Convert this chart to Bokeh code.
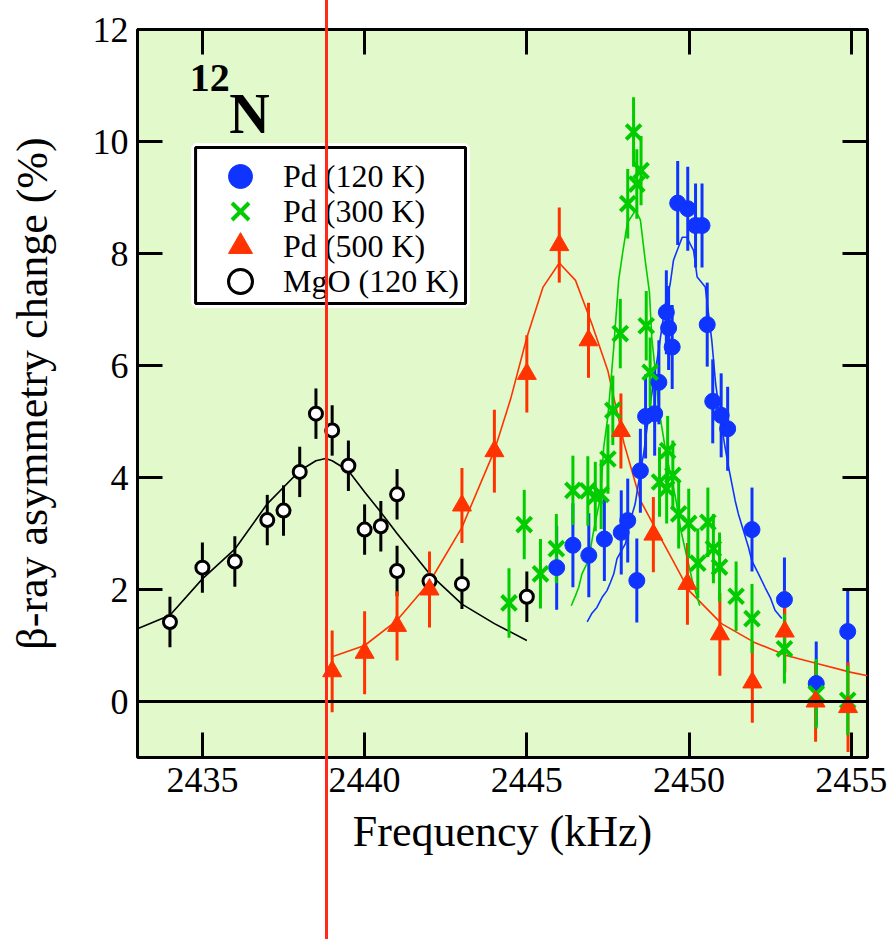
import numpy as np
from bokeh.plotting import figure
from bokeh.models import (ColumnDataSource, Range1d, LinearAxis, FixedTicker, Span, Label,
                          Legend, LegendItem, BoxAnnotation, InlineStyleSheet)
from bokeh.embed import file_html
from bokeh.resources import INLINE

# ---------------- data ----------------
# Pd (120 K) - blue filled circles
pd120_x = [2445.92, 2446.42, 2446.91, 2447.39, 2447.91, 2448.11, 2448.39, 2448.50, 2448.66,
           2448.94, 2449.07, 2449.30, 2449.37, 2449.48, 2449.65, 2449.96, 2450.20, 2450.40,
           2450.56, 2450.73, 2450.99, 2451.19, 2451.94, 2452.94, 2453.92, 2454.89]
pd120_y = [2.39, 2.79, 2.61, 2.90, 3.02, 3.23, 2.16, 4.12, 5.09,
           5.14, 5.70, 6.95, 6.67, 6.33, 8.90, 8.80, 8.50, 8.50,
           6.73, 5.36, 5.11, 4.87, 3.07, 1.82, 0.32, 1.25]
pd120_e = [0.75] * len(pd120_x)

# Pd (300 K) - green crosses
pd300_x = [2444.45, 2444.92, 2445.42, 2445.91, 2446.42, 2446.88, 2447.11, 2447.29, 2447.50,
           2447.65, 2447.88, 2448.11, 2448.29, 2448.39, 2448.52, 2448.68, 2448.80, 2449.09,
           2449.34, 2449.31, 2449.50, 2449.68, 2449.99, 2450.27, 2450.58, 2450.75, 2450.94,
           2451.45, 2451.94, 2452.94, 2453.92, 2454.89]
pd300_y = [1.76, 3.16, 2.28, 2.73, 3.77, 3.76, 3.66, 3.70, 4.33,
           5.20, 6.57, 8.89, 10.17, 9.24, 9.48, 6.71, 5.88, 3.92,
           4.48, 3.80, 4.04, 3.35, 3.18, 2.47, 3.20, 2.73, 2.40,
           1.88, 1.48, 0.94, 0.14, 0.02]
pd300_e = [0.62] * len(pd300_x)

# Pd (500 K) - red triangles
pd500_x = [2439.0, 2440.0, 2441.0, 2442.0, 2443.0, 2444.0, 2445.0, 2446.0, 2446.9,
           2447.9, 2448.9, 2449.95, 2450.95, 2451.95, 2452.95, 2453.9, 2454.9]
pd500_y = [0.54, 0.87, 1.35, 2.00, 3.50, 4.47, 5.85, 8.15, 6.45,
           4.83, 2.98, 2.10, 1.20, 0.34, 1.25, 0.00, -0.10]
pd500_e = [0.73, 0.74, 0.62, 0.68, 0.67, 0.74, 0.69, 0.67, 0.67,
           0.67, 0.67, 0.73, 0.74, 0.72, 0.73, 0.72, 0.80]

# MgO (120 K) - open black circles
mgo_x = [2434.0, 2435.0, 2436.0, 2437.0, 2437.5, 2438.0, 2438.5, 2439.0, 2439.5,
         2440.0, 2440.5, 2441.0, 2441.0, 2442.0, 2443.0, 2445.0]
mgo_y = [1.42, 2.39, 2.50, 3.24, 3.41, 4.10, 5.14, 4.84, 4.21,
         3.07, 3.13, 3.70, 2.33, 2.15, 2.10, 1.87]
mgo_e = [0.45] * len(mgo_x)

# fitted curves
fit_mgo_x = [2433.0, 2434.0, 2435.0, 2436.0, 2437.0, 2438.0, 2438.5, 2438.8, 2439.0, 2439.5,
             2440.0, 2440.5, 2441.0, 2442.0, 2443.0, 2444.0, 2445.0]
fit_mgo_y = [1.30, 1.54, 2.19, 2.72, 3.53, 4.12, 4.30, 4.34, 4.30, 4.12,
             3.74, 3.38, 3.00, 2.28, 1.74, 1.39, 1.09]

fit_500_x = [2439.0, 2440.0, 2441.0, 2442.0, 2443.0, 2444.0, 2444.5, 2445.0, 2445.5, 2446.0,
             2446.5, 2447.0, 2447.5, 2448.0, 2448.5, 2449.0, 2449.5, 2450.0, 2451.0, 2452.0,
             2453.0, 2454.0, 2455.0, 2455.5]
fit_500_y = [0.80, 1.00, 1.45, 2.13, 3.11, 4.48, 5.40, 6.50, 7.40, 7.83,
             7.52, 6.75, 5.90, 4.60, 3.59, 3.05, 2.52, 1.98, 1.39, 1.06,
             0.82, 0.67, 0.52, 0.46]

fit_300_x = [2446.37, 2446.50, 2446.60, 2446.70, 2446.90, 2447.06, 2447.27, 2447.37, 2447.50,
             2447.68, 2447.83, 2447.95, 2448.10, 2448.35, 2448.50, 2448.65, 2448.78, 2448.85,
             2448.96, 2449.06, 2449.16, 2449.30, 2449.58, 2449.75, 2450.10, 2450.33]
fit_300_y = [1.71, 1.89, 2.04, 2.28, 2.52, 3.05, 3.65, 4.54, 5.10,
             6.33, 7.52, 8.00, 8.55, 8.77, 8.60, 7.87, 7.30, 6.50,
             5.90, 5.26, 4.90, 4.40, 3.65, 3.05, 2.16, 1.71]

fit_120_x = [2446.86, 2447.00, 2447.16, 2447.32, 2447.47, 2447.58, 2447.68, 2447.78, 2448.04,
             2448.19, 2448.34, 2448.50, 2448.60, 2448.80, 2449.06, 2449.27, 2449.42, 2449.52,
             2449.63, 2449.79, 2449.93, 2450.14, 2450.25, 2450.50, 2450.70, 2450.82, 2450.96,
             2451.11, 2451.22, 2451.42, 2451.52, 2451.83, 2451.93, 2452.14, 2452.34, 2452.50,
             2452.65, 2452.86]
fit_120_y = [1.42, 1.57, 1.68, 1.86, 1.98, 2.13, 2.28, 2.55, 2.82,
             3.23, 3.53, 4.12, 4.42, 5.30, 6.27, 7.10, 7.46, 7.88,
             8.05, 8.29, 8.29, 8.05, 7.58, 7.40, 6.45, 5.67, 5.08,
             4.54, 4.18, 3.59, 3.35, 2.76, 2.52, 2.28, 2.04, 1.86,
             1.63, 1.48]

x_ticks = [2435, 2440, 2445, 2450, 2455]
y_ticks = [0, 2, 4, 6, 8, 10, 12]
marker_line_x = 2438.82   # red vertical marker line drawn across the picture

# ---------------- geometry / styling ----------------
W, H = 890, 939
BL, BR, BT, BB = 137, 23, 29, 182          # borders around the frame
X0, X1, Y0, Y1 = 2433.0, 2455.5, -1.0, 12.0
BLUE = "#1034FF"
GREEN = "#00CC00"
RED = "#FF3300"
VRED = "#FF2A1A"
BG = "#E2FACB"
FONT = "Liberation Serif"

# pixel position of the red marker line, derived from the x scale
line_px = BL + (marker_line_x - X0) / (X1 - X0) * (W - BL - BR)
css = (":host { position: relative; }"
       ":host::after { content: ''; position: absolute; top: 0; height: %dpx; "
       "left: %dpx; width: 3px; background: %s; pointer-events: none; z-index: 100; }"
       % (H, int(round(line_px)) - 1, VRED))

p = figure(width=W, height=H, output_backend="svg", toolbar_location=None,
           x_range=Range1d(X0, X1), y_range=Range1d(Y0, Y1),
           x_axis_location=None, y_axis_location=None,
           min_border_left=BL, min_border_right=BR, min_border_top=BT, min_border_bottom=BB)
p.stylesheets = [InlineStyleSheet(css=css)]
p.background_fill_color = BG
p.border_fill_color = "white"
p.outline_line_color = "black"
p.outline_line_width = 3
p.xgrid.visible = False
p.ygrid.visible = False


def style_axis(ax, labels=True):
    ax.axis_line_color = None
    ax.major_tick_in = 25
    ax.major_tick_out = 0
    ax.minor_tick_line_color = None
    ax.major_tick_line_width = 3
    ax.major_tick_line_color = "black"
    ax.major_label_text_font = FONT
    ax.major_label_text_font_size = "36px"
    ax.major_label_text_color = "black"
    ax.axis_label_text_font = FONT
    ax.axis_label_text_font_size = "44px"
    ax.axis_label_text_font_style = "normal"
    ax.axis_label_text_color = "black"
    if not labels:
        ax.major_label_text_font_size = "0px"
        ax.major_label_text_alpha = 0


xb = LinearAxis(ticker=FixedTicker(ticks=x_ticks), axis_label="Frequency (kHz)")
style_axis(xb)
xb.major_label_standoff = 10
xb.axis_label_standoff = 12
p.add_layout(xb, "below")

xt = LinearAxis(ticker=FixedTicker(ticks=x_ticks))
style_axis(xt, labels=False)
p.add_layout(xt, "above")

yl = LinearAxis(ticker=FixedTicker(ticks=y_ticks), axis_label="β-ray asymmetry change (%)")
style_axis(yl)
yl.major_label_standoff = 9
yl.axis_label_standoff = 33
p.add_layout(yl, "left")

yr = LinearAxis(ticker=FixedTicker(ticks=y_ticks))
style_axis(yr, labels=False)
p.add_layout(yr, "right")

# zero line
p.add_layout(Span(location=0, dimension="width", line_color="black", line_width=3))


def src(x, y, e):
    x = np.asarray(x, float); y = np.asarray(y, float); e = np.asarray(e, float)
    return ColumnDataSource(dict(x=x, y=y, lo=y - e, hi=y + e))


s120 = src(pd120_x, pd120_y, pd120_e)
s300 = src(pd300_x, pd300_y, pd300_e)
s500 = src(pd500_x, pd500_y, pd500_e)
smgo = src(mgo_x, mgo_y, mgo_e)

# fit curves
p.line(fit_mgo_x, fit_mgo_y, line_color="black", line_width=1.6)
p.line(fit_500_x, fit_500_y, line_color=RED, line_width=1.6)
p.line(fit_300_x, fit_300_y, line_color=GREEN, line_width=1.6)
p.line(fit_120_x, fit_120_y, line_color=BLUE, line_width=1.6)

# error bars
p.segment(x0="x", y0="lo", x1="x", y1="hi", source=smgo, line_color="black", line_width=3)
p.segment(x0="x", y0="lo", x1="x", y1="hi", source=s120, line_color=BLUE, line_width=3)
p.segment(x0="x", y0="lo", x1="x", y1="hi", source=s500, line_color=RED, line_width=3)
p.segment(x0="x", y0="lo", x1="x", y1="hi", source=s300, line_color=GREEN, line_width=3)

# markers
r_mgo = p.scatter("x", "y", source=smgo, marker="circle", size=13, fill_color="white",
                  line_color="black", line_width=3)
r120 = p.scatter("x", "y", source=s120, marker="circle", size=16, fill_color=BLUE,
                 line_color=BLUE, line_width=1)
r300 = p.scatter("x", "y", source=s300, marker="x", size=21, line_color=GREEN, line_width=4)
r500 = p.scatter("x", "y", source=s500, marker="triangle", size=19, fill_color=RED,
                 line_color=RED, line_width=1)

# legend frame (white margin + black border), in data units of the frame
leg_box = dict(left=2434.79, right=2443.11, top=9.893, bottom=7.107)
p.add_layout(BoxAnnotation(**leg_box, fill_color="white", fill_alpha=1.0,
                           line_color="white", line_alpha=1.0, line_width=9))
p.add_layout(BoxAnnotation(**leg_box, fill_alpha=0.0,
                           line_color="black", line_alpha=1.0, line_width=3))

# two interleaved legends so that glyphs can be large while rows stay close
leg_kw = dict(orientation="vertical", glyph_width=82, glyph_height=60, label_standoff=2,
              spacing=10, padding=0, margin=0, label_width=150,
              label_text_font=FONT, label_text_font_size="32px", label_text_color="black",
              border_line_color=None, background_fill_alpha=0.0)
legA = Legend(items=[LegendItem(label="Pd (120 K)", renderers=[r120]),
                     LegendItem(label="Pd (500 K)", renderers=[r500])],
              location=(62, 481), **leg_kw)
legB = Legend(items=[LegendItem(label="Pd (300 K)", renderers=[r300]),
                     LegendItem(label="MgO (120 K)", renderers=[r_mgo])],
              location=(62, 446), **leg_kw)
p.add_layout(legA)
p.add_layout(legB)

# nuclide label
p.add_layout(Label(x=2434.61, y=11.13, text="12", text_font=FONT, text_font_size="40px",
                   text_font_style="bold", text_color="black", text_baseline="alphabetic"))
p.add_layout(Label(x=2435.83, y=10.50, text="N", text_font=FONT, text_font_size="56px",
                   text_font_style="bold", text_color="black", text_baseline="alphabetic"))

open("out.html", "w").write(file_html(p, INLINE))
